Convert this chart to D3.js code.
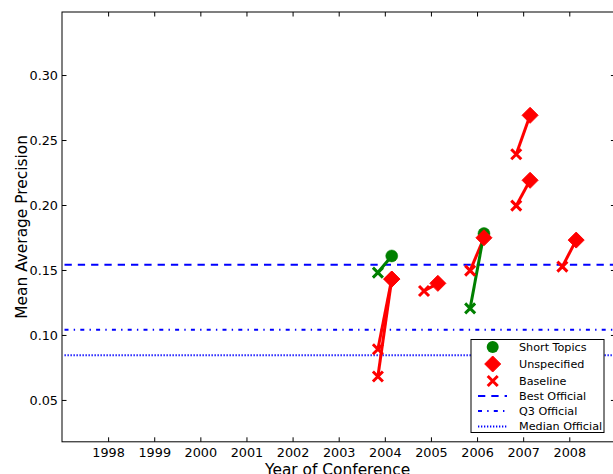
<!DOCTYPE html>
<html>
<head>
<meta charset="utf-8">
<script src="https://cdn.jsdelivr.net/npm/d3@7"></script>
<style>
html, body { margin: 0; padding: 0; background: #fff; overflow: hidden; }
svg { display: block; font-family: "DejaVu Sans", sans-serif; }
</style>
</head>
<body>
<svg id="chart" width="613" height="474"></svg>
<script>
// ---- data ----
const xTicks = [1998, 1999, 2000, 2001, 2002, 2003, 2004, 2005, 2006, 2007, 2008];
const yTicks = [0.05, 0.10, 0.15, 0.20, 0.25, 0.30];

const shortYears = [2004, 2006];
const shortBaseline = [0.148, 0.1205];
const shortValues = [0.1608, 0.178];

const unspecYears = [2004, 2004, 2005, 2006, 2007, 2007, 2008];
const unspecBaseline = [0.068, 0.089, 0.1338, 0.1495, 0.239, 0.1995, 0.1526];
const unspecValues = [0.143, 0.143, 0.1397, 0.1748, 0.269, 0.219, 0.173];

const officialNames = ["Best Official", "Q3 Official", "Median Official"];
const officialValues = [0.154, 0.104, 0.0844];

const legendNames = ["Short Topics", "Unspecified", "Baseline"];

// ---- layout ----
const svg = d3.select("#chart");
const pL = 62, pR = 615.4, pT = 12, pB = 441.8;
const x = d3.scaleLinear().domain([1997, 2009]).range([pL, pR]);
const y = d3.scaleLinear().domain([0.0178, 0.3485]).range([pB, pT]);
const off = 0.15;
const red = "#ff0000", green = "#008000", blue = "#0000ff";

const plot = svg.append("g");
svg.append("defs").append("clipPath").attr("id", "clip")
  .append("rect").attr("x", pL).attr("y", pT).attr("width", pR - pL).attr("height", pB - pT);
const inner = plot.append("g").attr("clip-path", "url(#clip)");

// official lines
const dashes = ["7.3,6", "4,5.2,1.4,5.2", "1.3,1.7"];
officialValues.forEach((v, i) => {
  inner.append("line")
    .attr("x1", pL + 2.5).attr("x2", pR)
    .attr("y1", y(v)).attr("y2", y(v))
    .attr("stroke", blue).attr("stroke-width", 2)
    .attr("stroke-dasharray", dashes[i]);
});

// connecting lines
unspecYears.forEach((yv, i) => {
  inner.append("line")
    .attr("x1", x(yv - off)).attr("y1", y(unspecBaseline[i]))
    .attr("x2", x(yv + off)).attr("y2", y(unspecValues[i]))
    .attr("stroke", red).attr("stroke-width", 3);
});
shortYears.forEach((yv, i) => {
  inner.append("line")
    .attr("x1", x(yv - off)).attr("y1", y(shortBaseline[i]))
    .attr("x2", x(yv + off)).attr("y2", y(shortValues[i]))
    .attr("stroke", green).attr("stroke-width", 3);
});

function drawX(g, cx, cy, color, s) {
  g.append("path")
    .attr("d", `M${cx - s},${cy - s}L${cx + s},${cy + s}M${cx - s},${cy + s}L${cx + s},${cy - s}`)
    .attr("stroke", color).attr("stroke-width", 3).attr("fill", "none");
}
function drawDiamond(g, cx, cy, color, s) {
  g.append("path")
    .attr("d", `M${cx},${cy - s}L${cx + s},${cy}L${cx},${cy + s}L${cx - s},${cy}Z`)
    .attr("fill", color).attr("stroke", color).attr("stroke-width", 1);
}

// markers
shortYears.forEach((yv, i) => drawX(inner, x(yv - off), y(shortBaseline[i]), green, 5));
unspecYears.forEach((yv, i) => drawX(inner, x(yv - off), y(unspecBaseline[i]), red, 5));
shortYears.forEach((yv, i) => {
  inner.append("circle").attr("cx", x(yv + off)).attr("cy", y(shortValues[i]))
    .attr("r", 6).attr("fill", green).attr("stroke", green).attr("stroke-width", 0.5);
});
unspecYears.forEach((yv, i) => drawDiamond(inner, x(yv + off), y(unspecValues[i]), red, 8));

// spines
plot.append("rect").attr("x", pL).attr("y", pT).attr("width", pR - pL).attr("height", pB - pT)
  .attr("fill", "none").attr("stroke", "#000").attr("stroke-width", 1);

// axes (ticks inward)
const tl = 4.5;
const xb = svg.append("g").attr("transform", `translate(0,${pB})`)
  .call(d3.axisBottom(x).tickValues(xTicks).tickFormat(d3.format("d")).tickSize(-tl).tickPadding(6.3));
const xt = svg.append("g").attr("transform", `translate(0,${pT})`)
  .call(d3.axisTop(x).tickValues(xTicks).tickFormat("").tickSize(-tl));
const ylAx = svg.append("g").attr("transform", `translate(${pL},0)`)
  .call(d3.axisLeft(y).tickValues(yTicks).tickFormat(d3.format(".2f")).tickSize(-tl).tickPadding(4));
const yrAx = svg.append("g").attr("transform", `translate(${pR},0)`)
  .call(d3.axisRight(y).tickValues(yTicks).tickFormat("").tickSize(-tl));
[xb, xt, ylAx, yrAx].forEach(g => {
  g.select(".domain").remove();
  g.selectAll("text").attr("font-family", "DejaVu Sans").attr("font-size", 12.8).attr("fill", "#000");
  g.selectAll("line").attr("stroke", "#000");
});

// axis labels
svg.append("text").attr("x", (pL + pR) / 2 - 1).attr("y", 474.5)
  .attr("text-anchor", "middle").attr("font-size", 15.4).text("Year of Conference");
svg.append("text").attr("transform", `translate(26.5,${(pT + pB) / 2}) rotate(-90)`)
  .attr("text-anchor", "middle").attr("font-size", 15.4).text("Mean Average Precision");

// legend
const lg = svg.append("g");
lg.append("rect").attr("x", 471).attr("y", 339.5).attr("width", 133).attr("height", 93)
  .attr("fill", "#fff").attr("stroke", "#000").attr("stroke-width", 1);
const rowY = [347, 364, 381, 396, 411, 426.5];
const allNames = legendNames.concat(officialNames);
allNames.forEach((n, i) => {
  lg.append("text").attr("x", 519).attr("y", rowY[i]).attr("dy", "0.35em")
    .attr("font-size", 11.2).text(n);
});
const mx = 492.7;
lg.append("circle").attr("cx", mx).attr("cy", rowY[0]).attr("r", 6).attr("fill", green);
drawDiamond(lg, mx, rowY[1], red, 8);
drawX(lg, mx, rowY[2], red, 5);
officialNames.forEach((n, i) => {
  lg.append("line").attr("x1", 478).attr("x2", 507).attr("y1", rowY[3 + i]).attr("y2", rowY[3 + i])
    .attr("stroke", blue).attr("stroke-width", 2).attr("stroke-dasharray", dashes[i]);
});
</script>
</body>
</html>
